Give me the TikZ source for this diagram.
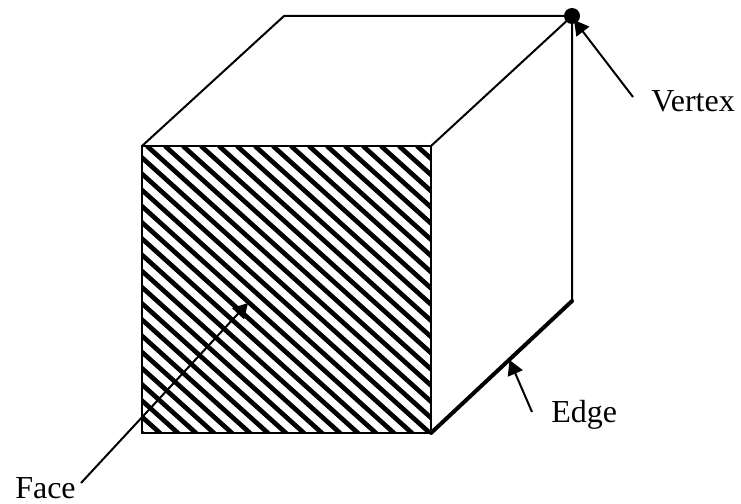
\documentclass[tikz,border=0pt]{standalone}
\usepackage{fontspec}
\setmainfont{Liberation Serif}
\usetikzlibrary{arrows.meta}
\tikzset{
  edgeline/.style={line width=1.5pt,black,line cap=round,line join=miter},
  boldedge/.style={line width=3pt,black,line cap=round},
  pointer/.style={line width=1.5pt,black,-{Triangle[length=11pt,width=12pt]}},
  labeltext/.style={font=\fontsize{24pt}{26pt}\selectfont,inner sep=0pt,anchor=base west,black}
}
\begin{document}
\begin{tikzpicture}[x=0.75pt,y=-0.75pt]
\useasboundingbox (0,0) rectangle (741,503);
\fill[white] (0,0) rectangle (741,503);
\coordinate (fa) at (142,146);
\coordinate (fb) at (431,146);
\coordinate (fc) at (431,433);
\coordinate (fd) at (142,433);
\coordinate (ba) at (284,16);
\coordinate (bb) at (572,16);
\coordinate (bc) at (572,301);
\begin{scope}
\clip (fa) rectangle (fc);
\foreach \i in {-22,...,18}{
  \draw[line width=3.5pt,black] (147+18*\i,146) -- ++(500,450);
}
\end{scope}
\draw[edgeline] (fa) -- (fb) -- (fc) -- (fd) -- cycle;
\draw[edgeline] (fa) -- (ba) -- (bb) -- (bc);
\draw[edgeline] (fb) -- (bb);
\draw[boldedge] (fc) -- (bc);
\node[circle,fill=black,inner sep=0pt,minimum size=12pt] (vdot) at (bb) {};
\node[labeltext] (vertex) at (651,111) {Vertex};
\node[labeltext] (edge) at (551,422) {Edge};
\node[labeltext] (face) at (15,498) {Face};
\coordinate (vs) at (633,97);
\coordinate (vt) at (574,20);
\coordinate (es) at (532,412);
\coordinate (et) at (509.5,360);
\coordinate (fs) at (81,483);
\coordinate (ft) at (248,303);
\draw[pointer] (vs) -- (vt);
\draw[pointer] (es) -- (et);
\draw[pointer] (fs) -- (ft);
\end{tikzpicture}
\end{document}
